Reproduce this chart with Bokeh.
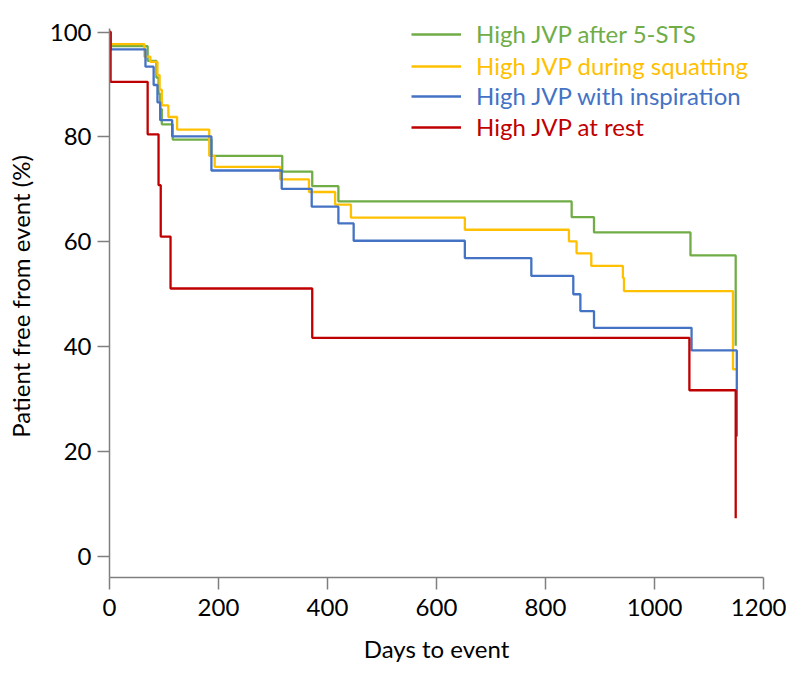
from bokeh.plotting import figure
from bokeh.models import Legend, LegendItem, Range1d, FixedTicker
from bokeh.embed import file_html
from bokeh.resources import INLINE

# ---- data ----
series_names = ["High JVP after 5-STS", "High JVP during squatting",
                "High JVP with inspiration", "High JVP at rest"]
series_colors = ["#70AD47", "#FFC000", "#4472C4", "#C00000"]

green_days = [0, 2, 70, 86, 90, 93, 96, 116, 187, 317, 372, 420, 848, 889, 1066, 1149]
green_surv = [100, 97.3, 94.5, 91.3, 88.2, 85.3, 82.4, 79.5, 76.4, 73.4, 70.6, 67.7,
              64.7, 61.8, 57.4, 40.2]

yellow_days = [0, 2, 64, 75, 88, 92, 96, 108, 124, 183, 193, 313, 366, 414, 443, 652,
               843, 857, 884, 942, 944, 1144, 1152]
yellow_surv = [100, 97.7, 95.3, 94.3, 91.8, 89.0, 86.0, 83.8, 81.4, 76.4, 74.3, 71.9,
               69.5, 67.1, 64.6, 62.3, 60.1, 57.8, 55.4, 53.1, 50.6, 35.7, 35.7]

blue_days = [0, 2, 66, 81, 88, 93, 115, 187, 316, 371, 420, 448, 652, 774, 851, 864,
             889, 1068, 1151]
blue_surv = [100, 96.7, 93.4, 89.9, 86.6, 83.2, 80.1, 73.6, 70.1, 66.7, 63.5, 60.2,
             56.9, 53.5, 50.0, 46.8, 43.6, 39.3, 22.9]

red_days = [0, 2, 70, 90, 94, 112, 372, 1064, 1149]
red_surv = [100, 90.5, 80.5, 70.8, 61.0, 51.1, 41.7, 31.7, 7.3]

x_ticks = [0, 200, 400, 600, 800, 1000, 1200]
y_ticks = [0, 20, 40, 60, 80, 100]

FONT = "Lato"

p = figure(width=786, height=677, output_backend="svg", toolbar_location=None,
           x_range=Range1d(0, 1200), y_range=Range1d(-4, 103.15),
           min_border_left=109, min_border_top=15, min_border_right=23,
           min_border_bottom=100)
p.xgrid.visible = False
p.ygrid.visible = False
p.outline_line_color = None
p.background_fill_color = "white"
p.border_fill_color = "white"

all_series = [(green_days, green_surv), (yellow_days, yellow_surv),
              (blue_days, blue_surv), (red_days, red_surv)]
renderers = []
for (d, s), c in zip(all_series, series_colors):
    r = p.step(d, s, mode="after", line_color=c, line_width=2.3)
    renderers.append(r)

for ax, ticks in ((p.xaxis, x_ticks), (p.yaxis, y_ticks)):
    ax.ticker = FixedTicker(ticks=ticks)
    ax.axis_line_color = "#7F7F7F"
    ax.axis_line_width = 1.5
    ax.major_tick_line_color = "#7F7F7F"
    ax.major_tick_line_width = 1.5
    ax.major_tick_in = 0
    ax.major_tick_out = 12
    ax.minor_tick_line_color = None
    ax.major_label_text_font = FONT
    ax.major_label_text_font_size = "24px"
    ax.major_label_text_color = "#000000"
    ax.axis_label_text_font = FONT
    ax.axis_label_text_font_size = "24px"
    ax.axis_label_text_font_style = "normal"
    ax.axis_label_text_color = "#000000"

p.yaxis.bounds = (-4, 100.6)
p.xaxis.axis_label = "Days to event"
p.yaxis.axis_label = "Patient free from event (%)"
p.xaxis.major_label_standoff = 9
p.yaxis.major_label_standoff = 6
p.xaxis.axis_label_standoff = 15
p.yaxis.axis_label_standoff = 12

# legend: one legend per entry so each label keeps its own colour
row_bottoms = [529, 497, 467, 436]
for name, col, r, yb in zip(series_names, series_colors, renderers, row_bottoms):
    lg = Legend(items=[LegendItem(label=name, renderers=[r])],
                location=(302, yb), orientation="vertical",
                glyph_width=50, glyph_height=24, label_height=24,
                label_standoff=15, padding=0, margin=0, spacing=0,
                border_line_color=None, background_fill_alpha=0,
                label_text_font=FONT, label_text_font_size="24px",
                label_text_color=col)
    p.add_layout(lg)

open("out.html", "w").write(file_html(p, INLINE))
